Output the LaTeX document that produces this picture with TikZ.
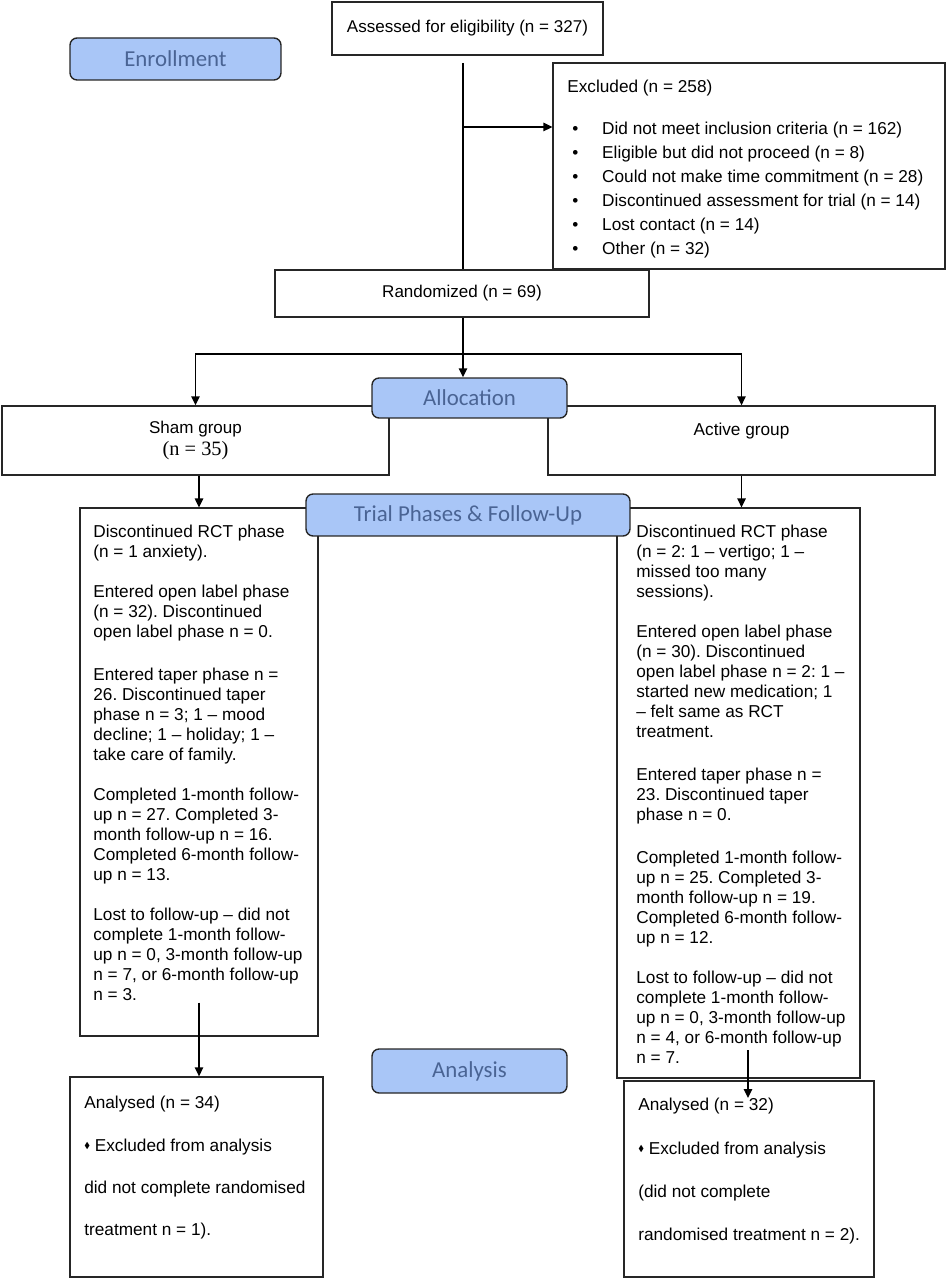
\documentclass[tikz,border=0pt]{standalone}
\usepackage{amssymb}
\usepackage{fontspec}
\setmainfont{Liberation Sans}
\newfontfamily\stagefont{Carlito}
\newfontfamily\numfont{Liberation Serif}
\frenchspacing
\usetikzlibrary{arrows.meta,positioning}
\definecolor{stageblue}{HTML}{A9C6F7}
\definecolor{stagetext}{HTML}{4A6494}
\newcommand{\dmd}{\raisebox{0.3ex}{\scalebox{0.5}{$\blacklozenge$}}}

\begin{document}
\begin{tikzpicture}[x=0.02cm,y=-0.02cm,
  box/.style={draw=black!85,line width=0.8pt,fill=white,inner sep=0pt,align=center,font=\fontsize{9.7}{11.4}\selectfont},
  stage/.style={draw=black!85,line width=0.8pt,fill=stageblue,rounded corners=4pt,text=stagetext,font=\stagefont\fontsize{13}{15}\selectfont},
  txt/.style={inner sep=0pt,align=left,font=\fontsize{9.8}{11.38}\selectfont},
  wide/.style={txt,font=\fontsize{9.8}{24}\selectfont},
  arr/.style={-{Triangle[length=1.8mm,width=1.7mm]},line width=0.8pt},
  ln/.style={line width=0.8pt},
]
\useasboundingbox (0,0) rectangle (948,1280);
% enrollment
\node[box,minimum width=5.42cm,minimum height=1.06cm] (assess) at (467.5,28.5) {Assessed for eligibility (n = 327)};
\node[stage,minimum width=4.22cm,minimum height=0.84cm] (enrol) at (175.5,59) {Enrollment};
\node[box,minimum width=7.84cm,minimum height=4.12cm] (excl) at (749,166) {};
\node[txt,anchor=west] (excltitle) at (567,88) {Excluded (n = 258)};
\foreach \t [count=\i] in {Did not meet inclusion criteria (n = 162),Eligible but did not proceed (n = 8),Could not make time commitment (n = 28),Discontinued assessment for trial (n = 14),Lost contact (n = 14),Other (n = 32)}
  \node[txt,anchor=west] (excl\i) at (572,106+24*\i) {\makebox[17pt][l]{\textbullet}\t};
\node[box,minimum width=7.48cm,minimum height=0.94cm] (rand) at (462,293.5) {Randomized (n = 69)};
% allocation
\node[box,minimum width=7.74cm,minimum height=1.38cm] (sham) at (195.5,440.5) {Sham group\\[1pt]{\numfont\fontsize{11.6}{13}\selectfont(n = 35)}};
\node[box,minimum width=7.74cm,minimum height=1.38cm] (active) at (741.5,440.5) {};
\node[txt] (acttxt) at (741.5,431) {Active group};
\node[stage,minimum width=3.9cm,minimum height=0.8cm] (alloc) at (469.5,398) {Allocation};
% trial phases
\node[box,minimum width=4.76cm,minimum height=10.56cm] (shamrct) at (199,772) {};
\node[box,minimum width=4.86cm,minimum height=11.4cm] (actrct) at (738.5,793) {};
\node[stage,minimum width=6.48cm,minimum height=0.84cm] (trial) at (468,515) {Trial Phases \& Follow-Up};
\node[txt,anchor=north west] (shamlog) at (93,525) {Discontinued RCT phase\\(n = 1 anxiety).\\[11.38pt]Entered open label phase\\(n = 32). Discontinued\\open label phase n = 0.\\[13pt]Entered taper phase n =\\26. Discontinued taper\\phase n = 3; 1 – mood\\decline; 1 – holiday; 1 –\\take care of family.\\[11.38pt]Completed 1-month follow-\\up n = 27. Completed 3-\\month follow-up n = 16.\\Completed 6-month follow-\\up n = 13.\\[11.38pt]Lost to follow-up – did not\\complete 1-month follow-\\up n = 0, 3-month follow-up\\n = 7, or 6-month follow-up\\n = 3.};
\node[txt,anchor=north west] (actlog) at (636,525) {Discontinued RCT phase\\(n = 2: 1 – vertigo; 1 –\\missed too many\\sessions).\\[11.38pt]Entered open label phase\\(n = 30). Discontinued\\open label phase n = 2: 1 –\\started new medication; 1\\– felt same as RCT\\treatment.\\[13pt]Entered taper phase n =\\23. Discontinued taper\\phase n = 0.\\[13pt]Completed 1-month follow-\\up n = 25. Completed 3-\\month follow-up n = 19.\\Completed 6-month follow-\\up n = 12.\\[11.38pt]Lost to follow-up – did not\\complete 1-month follow-\\up n = 0, 3-month follow-up\\n = 4, or 6-month follow-up\\n = 7.};
% analysis
\node[stage,minimum width=3.9cm,minimum height=0.88cm] (analysis) at (469.5,1071) {Analysis};
\node[box,minimum width=5.06cm,minimum height=4cm] (shaman) at (196.5,1177) {};
\node[wide,anchor=north west] (shamantxt) at (84,1096) {Analysed (n = 34)\\\dmd\ Excluded from analysis\\did not complete randomised\\treatment n = 1).};
\node[box,minimum width=5cm,minimum height=3.92cm] (actan) at (749,1179) {};
\node[wide,anchor=north west,font=\fontsize{9.8}{24.6}\selectfont] (actantxt) at (638,1098) {Analysed (n = 32)\\\dmd\ Excluded from analysis\\(did not complete\\randomised treatment n = 2).};
% connectors
\coordinate (trunk) at (463,63);
\coordinate (split) at (463,127);
\coordinate (fork) at (463,354);
\draw[ln] (trunk) -- (trunk |- rand.north);
\draw[arr] (split) -- (split -| excl.west);
\draw[arr] (rand.south -| trunk) -- (alloc.north -| trunk);
\draw[arr] (fork) -| (sham.north);
\draw[arr] (fork) -| (active.north);
\draw[arr] (sham.south -| shamrct.north) -- (shamrct.north);
\draw[arr] (active.south) -- (active.south |- actrct.north);
\draw[arr] ([yshift=0.68cm]shamrct.south) -- (shamrct.south |- shaman.north);
\coordinate (actdrop) at (748,1050);
\coordinate (actland) at (748,1098);
\draw[arr] (actdrop) -- (actland);
\end{tikzpicture}
\end{document}
